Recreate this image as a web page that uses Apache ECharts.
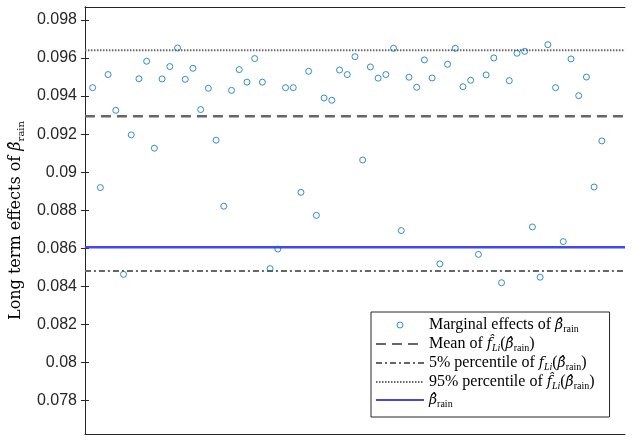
<!DOCTYPE html>
<html>
<head>
<meta charset="utf-8">
<script src="https://cdn.jsdelivr.net/npm/echarts@6/dist/echarts.min.js"></script>
<style>
  html, body { margin: 0; padding: 0; background: #fff; }
  #chart { width: 633px; height: 440px; }
</style>
</head>
<body>
<div id="chart"></div>
<script>
// marginal effects, one per draw (x = 1..67)
var marginal = [
  0.09444, 0.08919, 0.09513, 0.09325, 0.08463, 0.09196, 0.09491, 0.09583, 0.09126, 0.09490,
  0.09555, 0.09653, 0.09488, 0.09546, 0.09329, 0.09441, 0.09168, 0.08821, 0.09430, 0.09539,
  0.09473, 0.09597, 0.09473, 0.08493, 0.08596, 0.09444, 0.09444, 0.08894, 0.09530, 0.08773,
  0.09390, 0.09378, 0.09537, 0.09513, 0.09607, 0.09064, 0.09553, 0.09494, 0.09513, 0.09651,
  0.08693, 0.09499, 0.09446, 0.09590, 0.09495, 0.08518, 0.09567, 0.09651, 0.09449, 0.09483,
  0.08568, 0.09511, 0.09600, 0.08419, 0.09481, 0.09625, 0.09635, 0.08712, 0.08448, 0.09670,
  0.09444, 0.08635, 0.09595, 0.09402, 0.09500, 0.08922, 0.09164
];
var meanValue = 0.09294;
var p5Value = 0.08481;
var p95Value = 0.09641;
var betaRain = 0.08605;
var yTicks = [0.078, 0.08, 0.082, 0.084, 0.086, 0.088, 0.09, 0.092, 0.094, 0.096, 0.098];

var xMin = 0, xMax = 70;

var names = {
  marg: 'Marginal effects of beta_rain',
  mean: 'Mean of f_Li(beta_rain)',
  p5: '5% percentile of f_Li(beta_rain)',
  p95: '95% percentile of f_Li(beta_rain)',
  beta: 'beta_rain'
};

var B = '\u03B2\u0302';
var F = 'f\u0302';
var legendText = {};
legendText[names.marg] = '{n|Marginal effects of }{i|' + B + '}{s|rain}';
legendText[names.mean] = '{n|Mean of }{i|' + F + '}{si|Li}{n|(}{i|' + B + '}{s|rain}{n|)}';
legendText[names.p5] = '{n|5% percentile of }{i|f}{si|Li}{n|(}{i|' + B + '}{s|rain}{n|)}';
legendText[names.p95] = '{n|95% percentile of }{i|' + F + '}{si|Li}{n|(}{i|' + B + '}{s|rain}{n|)}';
legendText[names.beta] = '{i|' + B + '}{s|rain}';

var serif = 'Liberation Serif';
var mathFont = 'DejaVu Serif';
var rich = {
  n: { fontFamily: serif, fontSize: 16, color: '#000', lineHeight: 18 },
  i: { fontFamily: mathFont, fontSize: 14, fontStyle: 'italic', color: '#000', lineHeight: 18 },
  s: { fontFamily: serif, fontSize: 10, color: '#000', lineHeight: 18, verticalAlign: 'bottom', padding: [6, 0, 0, 0] },
  si: { fontFamily: serif, fontSize: 10, fontStyle: 'italic', color: '#000', lineHeight: 18, verticalAlign: 'bottom', padding: [6, 0, 0, 0] }
};

function hline(name, v, color, width, type) {
  return {
    name: name,
    type: 'line',
    data: [[xMin, v], [xMax, v]],
    symbol: 'none',
    silent: true,
    lineStyle: { color: color, width: width, type: type },
    itemStyle: { color: color },
    z: 2
  };
}

var noSymbol = { color: 'rgba(0,0,0,0)', borderColor: 'rgba(0,0,0,0)', borderWidth: 0, opacity: 0 };

var chart = echarts.init(document.getElementById('chart'), null, { renderer: 'canvas' });

var option = {
  animation: false,
  backgroundColor: '#fff',
  grid: { left: 83, right: 8, top: 7, bottom: 6, containLabel: false },
  xAxis: [
    { type: 'value', min: xMin, max: xMax, position: 'bottom',
      axisLine: { show: true, lineStyle: { color: '#262626', width: 1 } },
      axisTick: { show: false }, axisLabel: { show: false }, splitLine: { show: false } },
    { type: 'value', min: xMin, max: xMax, position: 'top',
      axisLine: { show: true, lineStyle: { color: '#262626', width: 1 } },
      axisTick: { show: false }, axisLabel: { show: false }, splitLine: { show: false } }
  ],
  yAxis: [
    { type: 'value', min: 0.07624, max: 0.09868, position: 'left',
      axisLine: { show: true, lineStyle: { color: '#262626', width: 1 } },
      axisTick: { show: true, inside: true, length: 4, customValues: yTicks, lineStyle: { color: '#262626' } },
      axisLabel: { show: true, customValues: yTicks, color: '#262626', fontSize: 16, fontFamily: 'Liberation Sans', margin: 8,
        formatter: function (v) { return String(+v.toFixed(3)); } },
      splitLine: { show: false },
      name: '{n|Long term effects of }{i|' + B + '}{s|rain}',
      nameLocation: 'middle', nameGap: 58, nameRotate: 90,
      nameTextStyle: { rich: {
        n: { fontFamily: mathFont, fontSize: 16, color: '#000', lineHeight: 20 },
        i: { fontFamily: mathFont, fontSize: 16, fontStyle: 'italic', color: '#000', lineHeight: 20 },
        s: { fontFamily: mathFont, fontSize: 10, color: '#000', lineHeight: 20, verticalAlign: 'bottom', padding: [7, 0, 0, 0] }
      } } },
    { type: 'value', min: 0.07624, max: 0.09868, position: 'right',
      axisLine: { show: true, lineStyle: { color: '#262626', width: 1 } },
      axisTick: { show: true, inside: true, length: 4, customValues: yTicks, lineStyle: { color: '#262626' } },
      axisLabel: { show: false }, splitLine: { show: false } }
  ],
  legend: {
    orient: 'vertical',
    left: 371, top: 312,
    padding: [5, 15, 8, 4],
    itemGap: 2,
    itemWidth: 48,
    itemHeight: 6,
    backgroundColor: '#fff',
    borderColor: '#262626',
    borderWidth: 1,
    borderRadius: 0,
    data: [
      { name: names.marg, itemStyle: { color: 'rgba(0,0,0,0)', borderColor: '#0072BD', borderWidth: 1 } },
      { name: names.mean, itemStyle: noSymbol },
      { name: names.p5, itemStyle: noSymbol },
      { name: names.p95, itemStyle: noSymbol },
      { name: names.beta, itemStyle: noSymbol }
    ],
    formatter: function (name) { return legendText[name]; },
    textStyle: { rich: rich, padding: [0, 0, 0, 0] }
  },
  series: [
    {
      name: names.marg,
      type: 'scatter',
      data: marginal.map(function (v, i) { return [i + 1, v]; }),
      symbol: 'circle',
      symbolSize: 6,
      itemStyle: { color: 'rgba(255,255,255,0)', borderColor: '#0072BD', borderWidth: 1 },
      z: 3
    },
    hline(names.mean, meanValue, '#666666', 2.5, [10, 6]),
    hline(names.p5, p5Value, '#666666', 2, [6, 3, 2, 3]),
    hline(names.p95, p95Value, '#666666', 2, [1.5, 1.5]),
    hline(names.beta, betaRain, '#4646F0', 2.5, 'solid')
  ]
};

chart.setOption(option);
</script>
</body>
</html>
